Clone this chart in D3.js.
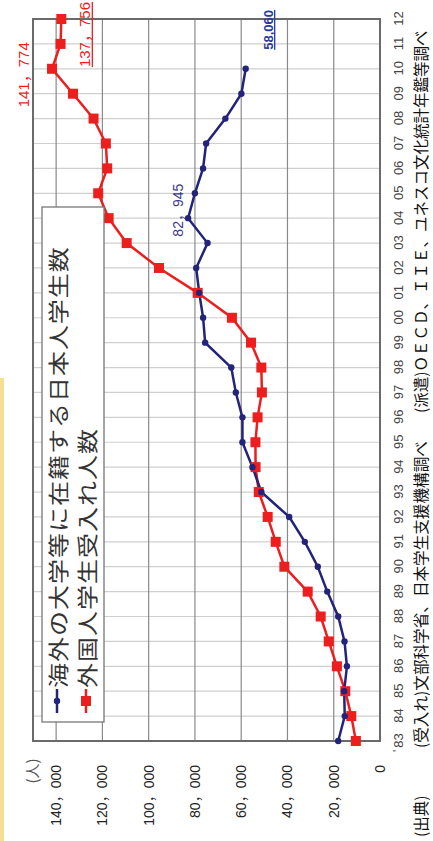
<!DOCTYPE html>
<html><head><meta charset="utf-8">
<script src="https://cdn.jsdelivr.net/npm/d3@7"></script>
<style>
html,body{margin:0;padding:0;background:#fff;}
svg{display:block;}
text{font-family:"Liberation Sans","Noto Sans CJK JP",sans-serif;}
.cjk{font-family:"Noto Sans CJK JP",sans-serif;}
</style></head>
<body>
<script>
// ---- data ----
const years = [1983,1984,1985,1986,1987,1988,1989,1990,1991,1992,1993,1994,1995,1996,1997,1998,1999,2000,2001,2002,2003,2004,2005,2006,2007,2008,2009,2010,2011,2012];
const blueYears = years.slice(0, 28); // 1983-2010
const japaneseAbroad = [18066,15246,15485,14297,15335,18066,22798,26893,32500,39258,51295,55145,59468,59460,62324,64284,75586,76464,78151,79455,74551,82945,80023,76492,75156,66833,59923,58060];
const foreignStudents = [10428,12410,15009,18631,22154,25643,31251,41347,45066,48561,52405,53787,53847,52921,51047,51298,55755,64011,78812,95550,109508,117302,121812,117927,118498,123829,132720,141774,138075,137756];
const valueTicks = [0,20000,40000,60000,80000,100000,120000,140000];
const seriesNames = ["海外の大学等に在籍する日本人学生数","外国人学生受入れ人数"];
const unitLabel = "(人)";
const sourceParts = ["(出典)", "(受入れ)文部科学省、日本学生支援機構調べ", "(派遣)ＯＥＣＤ、ＩＩＥ、ユネスコ文化統計年鑑等調べ"];

const BLUE = "#23237a", RED = "#ec1e1e";
const fmt = v => d3.format(",")(v).replace(/,/g, "，");

const W = 841, H = 433;
const svg = d3.select("body").append("svg").attr("width", 433).attr("height", 841);
svg.append("rect").attr("width",433).attr("height",841).attr("fill","#fff");
svg.append("rect").attr("x",0).attr("y",378).attr("width",4).attr("height",463).attr("fill","#f8de90");

const g = svg.append("g").attr("transform", `translate(0,${W}) rotate(-90)`);

const x = d3.scaleLinear().domain([1983, 2012]).range([100, 822]);
const y = d3.scaleLinear().domain([0, 150000]).range([380, 33]);

// year gridlines
g.append("g").selectAll("line").data(years.slice(1, -1)).join("line")
  .attr("x1", d => x(d)).attr("x2", d => x(d)).attr("y1", y(0)).attr("y2", y(150000))
  .attr("stroke", "#cfcfcf").attr("stroke-width", 1.2);
// value gridlines
g.append("g").selectAll("line").data(valueTicks.slice(1)).join("line")
  .attr("x1", x(1983)).attr("x2", x(2012)).attr("y1", d => y(d)).attr("y2", d => y(d))
  .attr("stroke", "#8a8a8a").attr("stroke-width", 1.2);
// frame
g.append("rect").attr("x", x(1983)).attr("y", y(150000)).attr("width", x(2012)-x(1983)).attr("height", y(0)-y(150000))
  .attr("fill","none").attr("stroke","#6a6a6a").attr("stroke-width",2);

// value axis
const ya = g.append("g").attr("transform", `translate(${x(1983)},0)`)
  .call(d3.axisLeft(y).tickValues(valueTicks).tickFormat(fmt).tickSize(0).tickPadding(24));
ya.select(".domain").remove();
ya.selectAll("text").attr("font-size", 14).attr("fill", "#222").attr("font-family", "Liberation Sans, Noto Sans CJK JP");

// year axis
const xa = g.append("g").attr("transform", `translate(0,${y(0)})`)
  .call(d3.axisBottom(x).tickValues(years).tickFormat(d => String(d % 100).padStart(2, "0")).tickSize(0).tickPadding(14));
xa.select(".domain").remove();
xa.selectAll("text").attr("font-size", 13).attr("fill", "#444").attr("font-family", "Liberation Sans");
g.append("text").attr("x", x(1983) - 11).attr("y", y(0) + 22).attr("font-size", 12).attr("fill","#555").text("'");

// unit label
g.append("text").attr("class","cjk").attr("x", 70).attr("y", 38).attr("text-anchor","middle")
  .attr("font-size", 15).attr("fill", "#555").text(unitLabel);

// lines
const line = d3.line().x(d => x(d[0])).y(d => y(d[1]));
const redData = years.map((yr, i) => [yr, foreignStudents[i]]);
const blueData = blueYears.map((yr, i) => [yr, japaneseAbroad[i]]);

g.append("path").datum(redData).attr("d", line).attr("fill","none").attr("stroke", RED).attr("stroke-width", 2.5);
g.append("path").datum(blueData).attr("d", line).attr("fill","none").attr("stroke", BLUE).attr("stroke-width", 2.5);

g.append("g").selectAll("rect").data(redData).join("rect")
  .attr("x", d => x(d[0]) - 5).attr("y", d => y(d[1]) - 5).attr("width", 10).attr("height", 10).attr("fill", RED);
g.append("g").selectAll("circle").data(blueData).join("circle")
  .attr("cx", d => x(d[0])).attr("cy", d => y(d[1])).attr("r", 3.2).attr("fill", BLUE);

// data labels
const lbl = (t, xx, yy, col, anchor, size, under, bold) => {
  const tx = g.append("text").attr("x", xx).attr("y", yy).attr("fill", col).attr("font-size", size)
    .attr("text-anchor", anchor).attr("font-weight", bold ? "bold" : "normal").text(t);
  if (under) {
    const bb = tx.node().getBBox();
    g.append("line").attr("x1", bb.x).attr("x2", bb.x + bb.width).attr("y1", yy + 2).attr("y2", yy + 2)
      .attr("stroke", col).attr("stroke-width", 1.3);
  }
};
lbl(fmt(141774), x(2010) - 6, y(141774) - 23, RED, "middle", 15, false, false);
lbl(fmt(137756), 839, y(137756) + 29, RED, "end", 15, true, false);
lbl(d3.format(",")(58060), x(2010) + 19, y(58060) + 27, "#2a3a9a", "start", 13, true, true);
lbl(fmt(82945), x(2004) + 8, y(82945) - 5, "#3a3a8a", "middle", 14, false, false);

// legend
const lg = g.append("g");
lg.append("rect").attr("x", 119).attr("y", 42).attr("width", 515).attr("height", 62)
  .attr("fill", "#fff").attr("stroke", "#777").attr("stroke-width", 1.3);
const legRows = [{name: seriesNames[0], col: BLUE, shape: "circle", yy: 57},
                 {name: seriesNames[1], col: RED, shape: "rect", yy: 86}];
legRows.forEach(r => {
  lg.append("line").attr("x1", 128).attr("x2", 152).attr("y1", r.yy).attr("y2", r.yy).attr("stroke", r.col).attr("stroke-width", 2.5);
  if (r.shape === "circle") lg.append("circle").attr("cx", 140).attr("cy", r.yy).attr("r", 3.2).attr("fill", r.col);
  else lg.append("rect").attr("x", 135).attr("y", r.yy - 5).attr("width", 10).attr("height", 10).attr("fill", r.col);
  lg.append("g").attr("transform", `translate(153,${r.yy}) scale(1,0.84)`)
    .append("text").attr("class","cjk").attr("x", 0).attr("y", 0).attr("dominant-baseline","central")
    .attr("font-size", 25).attr("letter-spacing", 1).attr("fill", "#333").text(r.name);
});

// source footer
const srcX = [4, 93, 428];
const srcSize = [15.5, 15.6, 15.5];
sourceParts.forEach((t, i) => {
  g.append("text").attr("class","cjk").attr("x", srcX[i]).attr("y", 427).attr("font-size", srcSize[i])
    .attr("fill","#111").text(t);
});
</script>
</body></html>
